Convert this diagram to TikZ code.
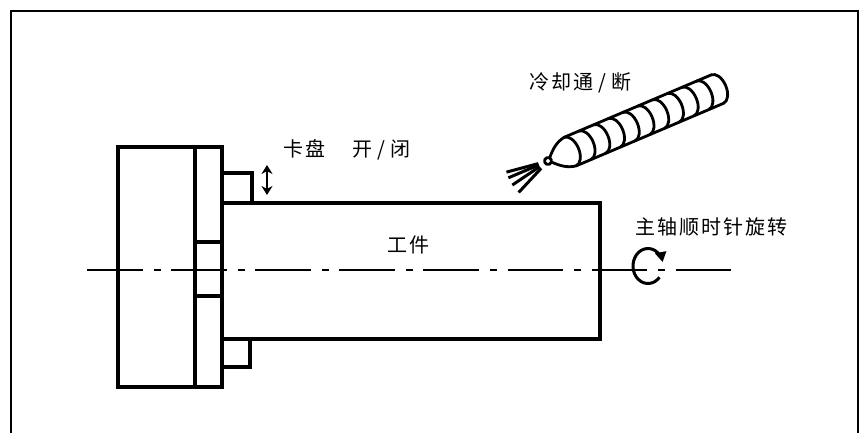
\documentclass[tikz,border=0pt]{standalone}
\usepackage{fontspec}
\newfontfamily\cjk[LetterSpace=10]{Noto Sans CJK SC}
\usetikzlibrary{arrows.meta}

\begin{document}
\begin{tikzpicture}[x=1pt,y=1pt,
  frameline/.style={line width=2.8pt},
  part/.style={line width=3.2pt},
  pipe/.style={line width=2.8pt, line cap=round, line join=round},
  axisline/.style={line width=2.2pt, dash pattern=on 55.5pt off 11pt on 7pt off 10.6pt},
  lbl/.style={inner sep=0pt, anchor=west, font=\cjk\fontsize{20}{20}\selectfont}
]
\useasboundingbox (0,0) rectangle (861,-433);

% outer frame, open at the bottom
\draw[frameline] (11,-433) -- (11,-11) -- (858,-11) -- (858,-433);

% chuck body and face plate
\draw[part] (118,-147) rectangle (195,-387);
\draw[part] (195,-147) rectangle (222,-387);
\draw[part] (195,-242) -- (222,-242);
\draw[part] (195,-296) -- (222,-296);

% jaws
\draw[part] (222,-173) rectangle (252,-203);
\draw[part] (222,-339) rectangle (250,-367);

% workpiece
\draw[part] (222,-203) -- (600,-203) -- (600,-339) -- (222,-339);

% jaw travel arrow
\draw[line width=2pt, {Stealth[length=9pt,width=11pt]}-{Stealth[length=9pt,width=11pt]}] (267,-165) -- (267,-195);

% spindle axis
\draw[axisline] (87,-270) -- (731,-270);

% spindle rotation symbol
\draw[line width=3pt, -{Triangle[length=10pt,width=11pt]}]
  ([shift={(-40:15 and 17.5)}]648,-266) arc[start angle=-40, end angle=-347, x radius=15, y radius=17.5];

% coolant pipe with ribbed hose
\begin{scope}[shift={(548,-161)}, rotate=23]
  \draw[pipe] (0,0) circle (3.5);
  \draw[pipe] (3,2.5) .. controls (9,9) and (15,14) .. (24,15.5);
  \draw[pipe] (3,-2.5) .. controls (9,-9) and (15,-14) .. (24,-15.5);
  \draw[pipe] (24,15.5) -- (184,15.5);
  \draw[pipe] (24,-15.5) -- (184,-15.5);
  \foreach \u in {24,40,...,184}
    \draw[pipe] (\u,15.5) arc[start angle=90, end angle=-90, x radius=9, y radius=15.5];
\end{scope}

% coolant spray
\foreach \a in {195,203,214,227}
  \draw[line width=3pt] (548,-161) ++(\a:10) -- ++(\a:33);

% labels
\node[lbl] (coolant) at (529,-83) {冷却通\hspace{5pt}/\hspace{5pt}断};
\node[lbl] (chuck) at (283,-150) {卡盘\hspace{27pt}开\hspace{5pt}/\hspace{5pt}闭};
\node[lbl] (work) at (387,-245) {工件};
\node[lbl] (spindle) at (635,-227) {主轴顺时针旋转};
\end{tikzpicture}
\end{document}
